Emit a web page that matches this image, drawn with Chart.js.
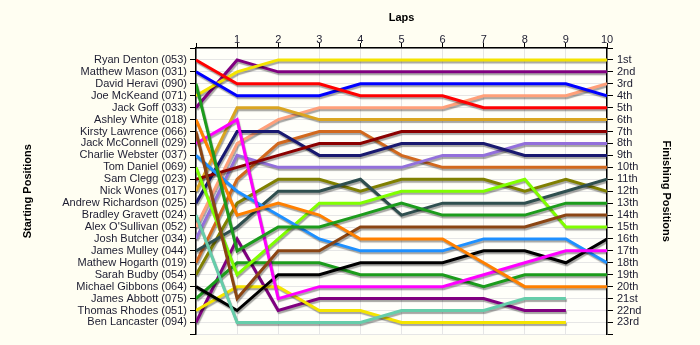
<!DOCTYPE html>
<html>
<head>
<meta charset="utf-8">
<script src="https://cdn.jsdelivr.net/npm/chart.js@4.4.1/dist/chart.umd.min.js"></script>
<style>
  html, body { margin: 0; padding: 0; background: #fffef2; }
  #wrap { width: 700px; height: 345px; }
</style>
</head>
<body>
<div id="wrap"><canvas id="lapChart" width="700" height="345"></canvas></div>
<script>
// ───── Lap chart: position of each driver after every lap ─────
const laps = [0, 1, 2, 3, 4, 5, 6, 7, 8, 9, 10];

// drivers in starting order (grid position 1..23)
const drivers = [
  'Ryan Denton (053)', 'Matthew Mason (031)', 'David Heravi (090)', 'Joe McKeand (071)',
  'Jack Goff (033)', 'Ashley White (018)', 'Kirsty Lawrence (066)', 'Jack McConnell (029)',
  'Charlie Webster (037)', 'Tom Daniel (069)', 'Sam Clegg (023)', 'Nick Wones (017)',
  'Andrew Richardson (025)', 'Bradley Gravett (024)', "Alex O'Sullivan (052)", 'Josh Butcher (034)',
  'James Mulley (044)', 'Mathew Hogarth (019)', 'Sarah Budby (054)', 'Michael Gibbons (064)',
  'James Abbott (075)', 'Thomas Rhodes (051)', 'Ben Lancaster (094)',
];

const lineColors = [
  '#ff0000', '#0000ff', '#1c9c1c', '#f4e400',
  '#800080', '#ff8000', '#8b4513', '#ff00ff',
  '#1e90ff', '#80ff00', '#8b0000', '#daa520',
  '#191970', '#66cdaa', '#ffa07a', '#9370db',
  '#2f4f4f', '#d2691e', '#808000', '#000000',
  '#1c9c1c', '#f4e400', '#800080',
];

// position after laps 0..10 (null = not running)
const lapPositions = [
  [1, 3, 3, 3, 4, 4, 4, 5, 5, 5, 5],
  [2, 4, 4, 4, 3, 3, 3, 3, 3, 3, 4],
  [3, 17, 15, 15, 14, 13, 14, 14, 14, 13, 13],
  [4, 2, 1, 1, 1, 1, 1, 1, 1, 1, 1],
  [5, 1, 2, 2, 2, 2, 2, 2, 2, 2, 2],
  [6, 14, 13, 14, 16, 16, 16, 18, 20, 20, 20],
  [7, 21, 17, 17, 15, 15, 15, 15, 15, 14, 14],
  [8, 6, 21, 20, 20, 20, 20, 19, 18, 17, 17],
  [9, 12, 14, 16, 17, 17, 17, 16, 16, 16, 18],
  [10, 19, 16, 13, 13, 12, 12, 12, 11, 15, 15],
  [11, 10, 9, 8, 8, 7, 7, 7, 7, 7, 7],
  [12, 5, 5, 6, 6, 6, 6, 6, 6, 6, 6],
  [13, 7, 7, 9, 9, 8, 8, 8, 9, 9, 9],
  [14, 23, 23, 23, 23, 22, 22, 22, 21, 21, null],
  [15, 8, 6, 5, 5, 5, 5, 4, 4, 4, 3],
  [16, 9, 10, 10, 10, 10, 9, 9, 8, 8, 8],
  [17, 15, 12, 12, 11, 14, 13, 13, 13, 12, 11],
  [18, 11, 8, 7, 7, 9, 10, 10, 10, 10, 10],
  [19, 13, 11, 11, 12, 11, 11, 11, 12, 11, 12],
  [20, 22, 19, 19, 18, 18, 18, 17, 17, 18, 16],
  [21, 18, 18, 18, 19, 19, 19, 20, 19, 19, 19],
  [22, 20, 20, 22, 22, 23, 23, 23, 23, 23, null],
  [23, 16, 22, 21, 21, 21, 21, 21, 22, 22, null],
];

const finishLabels = [
  '1st', '2nd', '3rd', '4th', '5th', '6th', '7th', '8th', '9th', '10th', '11th', '12th',
  '13th', '14th', '15th', '16th', '17th', '18th', '19th', '20th', '21st', '22nd', '23rd',
];

const FONT = "'Liberation Sans', Arial, sans-serif";
const TEXT = '#1c1c30';

// cream page, slightly lighter plot area
const background = {
  id: 'background',
  beforeDraw(chart) {
    const { ctx, chartArea: a } = chart;
    ctx.save();
    ctx.fillStyle = '#fffef2';
    ctx.fillRect(0, 0, chart.width, chart.height);
    ctx.fillStyle = '#fffffa';
    ctx.fillRect(a.left, a.top, a.right - a.left, a.bottom - a.top);
    ctx.restore();
  },
};

// grey drop shadow under every line
const lineShadow = {
  id: 'lineShadow',
  beforeDatasetDraw(chart) {
    const ctx = chart.ctx;
    ctx.save();
    ctx.shadowColor = 'rgba(0,0,0,0.35)';
    ctx.shadowOffsetX = 1;
    ctx.shadowOffsetY = 2;
    ctx.shadowBlur = 1;
  },
  afterDatasetDraw(chart) {
    chart.ctx.restore();
  },
};

const datasets = drivers.map((name, i) => ({
  label: name,
  data: laps.map((lap, j) => ({ x: lap, y: lapPositions[i][j] })),
  borderColor: lineColors[i],
  borderWidth: 3,
  pointRadius: 0,
  tension: 0,
  spanGaps: false,
  yAxisID: 'y',
}));

const posAxis = (position, labelFor, width, titleText, titlePad, tickLen, tickPad) => ({
  type: 'linear',
  position,
  min: 0,
  max: 24,
  reverse: true,
  afterFit: (scale) => { scale.width = width; },
  afterBuildTicks: (scale) => {
    scale.ticks = Array.from({ length: 25 }, (_, v) => ({ value: v }));
  },
  ticks: {
    autoSkip: false,
    padding: tickPad,
    color: TEXT,
    font: { family: FONT, size: 11 },
    callback: (v) => labelFor[v - 1] || '',
  },
  grid: {
    color: position === 'left' ? '#e6e6e6' : 'transparent',
    tickColor: '#000',
    tickLength: tickLen,
    lineWidth: 1,
  },
  border: { display: true, color: '#000', width: 1.5 },
  title: {
    display: true,
    text: titleText,
    color: '#000',
    font: { family: FONT, size: 11, weight: 'bold' },
    padding: { top: titlePad, bottom: 0 },
  },
});

new Chart(document.getElementById('lapChart'), {
  type: 'line',
  data: { datasets },
  plugins: [background, lineShadow],
  options: {
    responsive: false,
    animation: false,
    layout: { padding: { top: 0, left: 0, right: 0, bottom: 10 } },
    plugins: { legend: { display: false }, tooltip: { enabled: false } },
    scales: {
      x: {
        type: 'linear',
        position: 'top',
        min: 0,
        max: 10,
        afterFit: (scale) => { scale.height = 48; },
        ticks: {
          stepSize: 1,
          padding: -4,
          color: TEXT,
          font: { family: FONT, size: 11 },
          callback: (v) => (v === 0 ? '' : v),
        },
        grid: { color: '#e6e6e6', tickColor: '#000', tickLength: 5 },
        border: { display: true, color: '#000', width: 1.5 },
        title: {
          display: true,
          text: 'Laps',
          color: '#000',
          font: { family: FONT, size: 11, weight: 'bold' },
          padding: { top: 11, bottom: 0 },
        },
      },
      y: posAxis('left', drivers, 196, 'Starting Positions', 21, 6, 3),
      y2: posAxis('right', finishLabels, 93, 'Finishing Positions', 27, 6, 4),
    },
  },
});
</script>
</body>
</html>
